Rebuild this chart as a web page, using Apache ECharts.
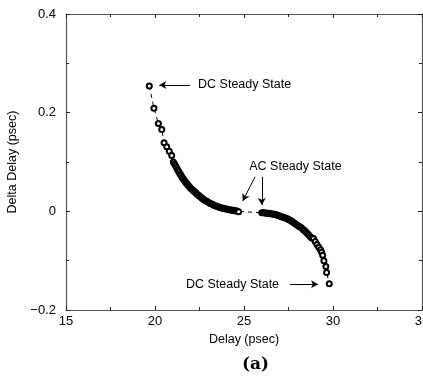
<!DOCTYPE html>
<html>
<head>
<meta charset="utf-8">
<script src="https://cdn.jsdelivr.net/npm/echarts@6/dist/echarts.min.js"></script>
<style>
html,body{margin:0;padding:0;background:#fff;}
#c{width:423px;height:379px;}
</style>
</head>
<body>
<div id="c"></div>
<script>
// Delay (psec)
var delayX = [
  19.68, 19.94, 20.19, 20.38, 20.51, 20.66, 20.80, 20.94, 21.03, 21.10,
  21.16, 21.22, 21.28, 21.34, 21.40, 21.46, 21.52, 21.58, 21.64, 21.70,
  21.76, 21.82, 21.88, 21.94, 22.00, 22.07, 22.14, 22.21, 22.28, 22.35,
  22.42, 22.49, 22.56, 22.63, 22.70, 22.78, 22.86, 22.94, 23.02, 23.10,
  23.18, 23.26, 23.34, 23.42, 23.50, 23.58, 23.66, 23.74, 23.82, 23.90,
  23.98, 24.06, 24.14, 24.22, 24.30, 24.38, 24.46, 24.54, 24.62, 24.70,
  26.00, 26.08, 26.16, 26.24, 26.32, 26.40, 26.48, 26.56, 26.64, 26.72,
  26.80, 26.88, 26.96, 27.04, 27.12, 27.20, 27.28, 27.36, 27.44, 27.52,
  27.60, 27.68, 27.76, 27.84, 27.92, 28.00, 28.08, 28.16, 28.24, 28.32,
  28.40, 28.48, 28.56, 28.64, 28.72, 28.80, 28.90, 29.00, 29.10, 29.20,
  29.30, 29.36, 29.42, 29.49, 29.60, 29.64, 29.79
];
// Delta Delay (psec)
var deltaY = [
  0.254, 0.209, 0.178, 0.166, 0.139, 0.131, 0.122, 0.113, 0.100, 0.096,
  0.092, 0.088, 0.084, 0.080, 0.076, 0.073, 0.069, 0.066, 0.063, 0.060,
  0.057, 0.055, 0.052, 0.050, 0.047, 0.045, 0.042, 0.040, 0.038, 0.035,
  0.033, 0.031, 0.029, 0.027, 0.025, 0.023, 0.021, 0.020, 0.018, 0.016,
  0.015, 0.014, 0.012, 0.011, 0.010, 0.009, 0.008, 0.007, 0.006, 0.005,
  0.005, 0.004, 0.003, 0.003, 0.002, 0.002, 0.001, 0.001, 0.000, -0.001,
  -0.003, -0.003, -0.003, -0.004, -0.004, -0.004, -0.005, -0.005, -0.006, -0.006,
  -0.007, -0.008, -0.009, -0.010, -0.011, -0.012, -0.013, -0.014, -0.015, -0.017,
  -0.018, -0.020, -0.022, -0.024, -0.026, -0.028, -0.030, -0.032, -0.034, -0.037,
  -0.039, -0.042, -0.045, -0.048, -0.051, -0.054, -0.055, -0.061, -0.067, -0.073,
  -0.078, -0.083, -0.089, -0.100, -0.112, -0.124, -0.147
];
var xTicks = [15, 20, 25, 30, 35];
var yTicks = [-0.2, 0, 0.2, 0.4];

// annotations (data coordinates)
var annoLabels = ['DC Steady State', 'AC Steady State', 'DC Steady State'];
var annoLabelPos = [[22.42, 0.256], [27.89, 0.090], [21.74, -0.148]];
var arrowFrom = [[21.97, 0.256], [25.62, 0.070], [26.00, 0.070], [27.58, -0.148]];
var arrowTo   = [[20.24, 0.256], [24.93, 0.021], [26.00, 0.013], [29.16, -0.148]];

var pts = delayX.map(function (x, i) { return [x, deltaY[i]]; });
var axisCol = '#555';
var font = '"Liberation Sans", Arial, Helvetica, sans-serif';

function fmtY(v) {
  if (Math.abs(v) < 1e-9) return '0';
  var s = v.toFixed(1);
  return s.replace('-', '\u2212');
}

var chart = echarts.init(document.getElementById('c'), null, {renderer: 'canvas'});
var baseX = {
  type: 'value', min: xTicks[0], max: xTicks[xTicks.length - 1], interval: 5,
  axisLine: {show: true, onZero: false, lineStyle: {color: axisCol, width: 1.2}},
  axisTick: {show: true, inside: true, length: 4, lineStyle: {color: '#222'}},
  minorTick: {show: true, splitNumber: 2, length: 3, lineStyle: {color: '#222'}},
  splitLine: {show: false}
};
var baseY = {
  type: 'value', min: yTicks[0], max: yTicks[yTicks.length - 1], interval: 0.2,
  axisLine: {show: true, onZero: false, lineStyle: {color: axisCol, width: 1.2}},
  axisTick: {show: true, inside: true, length: 4, lineStyle: {color: '#222'}},
  minorTick: {show: true, splitNumber: 2, length: 3, lineStyle: {color: '#222'}},
  splitLine: {show: false}
};

chart.setOption({
  animation: false,
  backgroundColor: '#fff',
  grid: {left: 66, right: 1, top: 14, bottom: 69, containLabel: false, outerBoundsMode: 'none'},
  title: {
    text: '(a)', left: 237, top: 351,
    textStyle: {fontFamily: '"DejaVu Serif", serif', fontWeight: 'bold', fontSize: 17, color: '#000'}
  },
  xAxis: [
    Object.assign({}, baseX, {
      position: 'bottom',
      name: 'Delay (psec)', nameLocation: 'middle', nameGap: 22,
      nameTextStyle: {fontFamily: font, fontSize: 12.5, color: '#000'},
      axisLabel: {show: true, margin: 5, fontFamily: font, fontSize: 13, color: '#000'}
    }),
    Object.assign({}, baseX, {position: 'top', axisLabel: {show: false}})
  ],
  yAxis: [
    Object.assign({}, baseY, {
      position: 'left',
      name: 'Delta Delay (psec)', nameLocation: 'middle', nameGap: 44, nameRotate: 90,
      nameTextStyle: {fontFamily: font, fontSize: 12.5, color: '#000'},
      axisLabel: {show: true, margin: 10, fontFamily: font, fontSize: 13, color: '#000', formatter: fmtY}
    }),
    Object.assign({}, baseY, {position: 'right', axisLabel: {show: false}})
  ],
  series: [
    {
      type: 'line',
      data: pts,
      symbol: 'emptyCircle',
      symbolSize: 5,
      showAllSymbol: true,
      lineStyle: {color: '#000', width: 1, type: [4, 4]},
      itemStyle: {color: '#000', borderColor: '#000', borderWidth: 0.8},
      z: 3,
      markLine: {
        silent: true,
        symbol: ['none', 'arrow'],
        symbolSize: [6, 7],
        lineStyle: {color: '#000', width: 1, type: 'solid'},
        itemStyle: {color: '#000'},
        label: {show: false},
        data: arrowFrom.map(function (f, i) {
          return [{coord: f}, {coord: arrowTo[i]}];
        })
      },
      markPoint: {
        silent: true,
        symbol: 'circle',
        symbolSize: 0,
        itemStyle: {color: 'rgba(0,0,0,0)'},
        label: {show: true, fontFamily: font, fontSize: 12.5, color: '#000'},
        data: annoLabels.map(function (t, i) {
          return {
            coord: annoLabelPos[i],
            value: t,
            label: {
              formatter: t,
              position: i === 1 ? 'inside' : 'right',
              distance: 0,
              align: i === 1 ? 'center' : 'left',
              verticalAlign: 'middle'
            }
          };
        })
      }
    }
  ]
});
</script>
</body>
</html>
